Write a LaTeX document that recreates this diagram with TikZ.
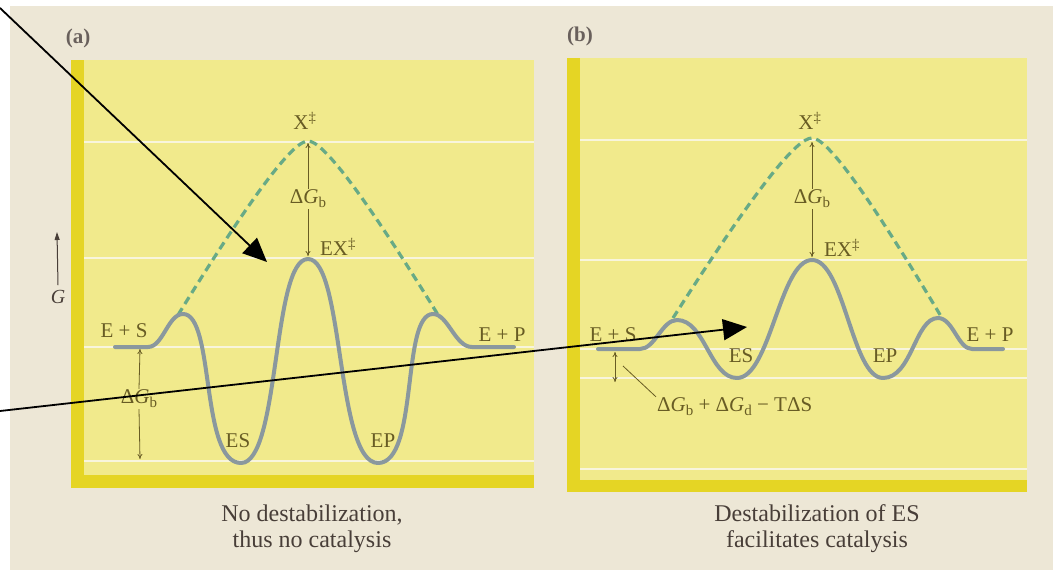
\documentclass[tikz,border=0pt]{standalone}
\usepackage{fontspec}
\setmainfont{Liberation Serif}
\usetikzlibrary{arrows.meta}
\definecolor{paper}{RGB}{237,231,214}
\definecolor{panelY}{RGB}{241,234,140}
\definecolor{barY}{RGB}{229,213,36}
\definecolor{lineW}{RGB}{248,245,220}
\definecolor{curveG}{RGB}{138,152,158}
\definecolor{dashG}{RGB}{104,170,134}
\definecolor{olive}{RGB}{104,92,36}
\definecolor{capC}{RGB}{72,62,56}
\definecolor{plabel}{RGB}{105,96,92}
\newcommand{\lowsub}[1]{\raisebox{-0.4ex}{\fontsize{15}{15}\selectfont #1}}
\newcommand{\dG}[1]{Δ\textit{G}\lowsub{#1}}
\begin{document}
\begin{tikzpicture}[x=1pt,y=-1pt,
  lbl/.style={text=olive,font=\fontsize{21}{23}\selectfont,inner sep=1pt},
  dimarrow/.style={draw=olive,line width=0.8pt,-{To[length=5pt,width=5pt]}},
  energy/.style={draw=curveG,line width=4pt,line cap=round,line join=round},
  trans/.style={draw=dashG,line width=3.2pt,dash pattern=on 8pt off 5pt},
  pointer/.style={draw=black,line width=1.8pt,-{Triangle[length=24pt,width=21pt]}},
  caption/.style={text=capC,font=\fontsize{24}{26}\selectfont,align=center},
  panellabel/.style={text=plabel,font=\bfseries\fontsize{21}{23}\selectfont},
  gridline/.style={draw=lineW,line width=2.6pt}]
\useasboundingbox (0,0) rectangle (1053,570);
\fill[white] (0,0) rectangle (1053,570);
\fill[paper] (10,6) rectangle (1053,570);

% ---------- panel (a) background ----------
\fill[panelY] (71,60) rectangle (534,488);
\foreach \yy in {142,258,347,461} \draw[gridline] (84,\yy) -- (534,\yy);
\fill[barY] (71,60) rectangle (84,488);
\fill[barY] (71,475) rectangle (534,488);

% ---------- panel (b) background ----------
\fill[panelY] (567,58) rectangle (1027,492);
\foreach \yy in {140,260,349,378,469} \draw[gridline] (580,\yy) -- (1027,\yy);
\fill[barY] (567,58) rectangle (580,492);
\fill[barY] (567,480) rectangle (1027,492);

% ---------- panel labels ----------
\node[panellabel] (pa) at (78,38) {(a)};
\node[panellabel] (pb) at (580,36) {(b)};

% ---------- G axis ----------
\node[text=capC,font=\itshape\fontsize{20}{22}\selectfont,inner sep=1pt] (gax) at (58,297) {G};
\coordinate (gtip) at (57,232);
\draw[draw=capC,line width=1pt,-{Triangle[length=8pt,width=5pt]}] (gax.north) ++(0,-4) -- (gtip);

% ---------- panel (a) curves ----------
\draw[trans] (178,315) .. controls (258.6,184.5) and (294.5,141) .. (308,141)
             .. controls (321.7,141) and (358.2,185.3) .. (440,318);
\draw[energy] (115,347) -- (148,347) .. controls (163,347) and (168,314) .. (183,314)
  .. controls (215,314) and (200,463) .. (241,463)
  .. controls (280,463) and (272,259) .. (308,259)
  .. controls (344,259) and (336,463) .. (378,463)
  .. controls (419,463) and (401,314) .. (433,314)
  .. controls (448,314) and (455,347) .. (472,347) -- (514,347);

% ---------- panel (a) labels ----------
\node[lbl] (xa) at (305,121) {X\textsuperscript{\ddag}};
\node[lbl] (exa) at (338,247) {EX\textsuperscript{\ddag}};
\node[lbl] (dgba) at (308,199) {\dG{b}};
\coordinate (xtopa) at (308,143);
\coordinate (exbota) at (308,256);
\draw[dimarrow] (dgba.north) -- (xtopa);
\draw[dimarrow] (dgba.south) -- (exbota);
\node[lbl] (esa) at (124,331) {E + S};
\node[lbl] (epa) at (502,335) {E + P};
\node[lbl] (esla) at (238,441) {ES};
\node[lbl] (epla) at (383,441) {EP};
\node[lbl] (dgbl) at (139,399) {\dG{b}};
\coordinate (lefttop) at (140,349);
\coordinate (leftbot) at (140,459);
\draw[dimarrow] (dgbl.north) -- (lefttop);
\draw[dimarrow] (dgbl.south) -- (leftbot);

% ---------- panel (b) curves ----------
\draw[trans] (673,318) .. controls (759.2,183) and (797.5,138) .. (812,138)
             .. controls (825.5,138) and (861.4,183) .. (942,318);
\draw[energy] (598,349) -- (640,349) .. controls (655,349) and (662,320) .. (677,320)
  .. controls (705,320) and (710,378) .. (737,378)
  .. controls (770,378) and (780,260) .. (812,260)
  .. controls (844,260) and (852,378) .. (883,378)
  .. controls (912,378) and (915,318) .. (938,318)
  .. controls (953,318) and (958,349) .. (972,349) -- (1003,349);

% ---------- panel (b) labels ----------
\node[lbl] (xb) at (810,121) {X\textsuperscript{\ddag}};
\node[lbl] (exb) at (842,248) {EX\textsuperscript{\ddag}};
\node[lbl] (dgbb) at (812,199) {\dG{b}};
\coordinate (xtopb) at (812,142);
\coordinate (exbotb) at (812,257);
\draw[dimarrow] (dgbb.north) -- (xtopb);
\draw[dimarrow] (dgbb.south) -- (exbotb);
\node[lbl] (esb) at (613,335) {E + S};
\node[lbl] (epb) at (990,335) {E + P};
\node[lbl] (eslb) at (741,356) {ES};
\node[lbl] (eplb) at (885,356) {EP};
\coordinate (dtop) at (615,352);
\coordinate (dbot) at (615,382);
\draw[draw=olive,line width=0.8pt,{To[length=5pt,width=5pt]}-{To[length=5pt,width=5pt]}] (dtop) -- (dbot);
\node[lbl,anchor=west] (sum) at (656,407) {\dG{b} + \dG{d} − TΔS};
\coordinate (lead) at (623,366);
\draw[draw=olive,line width=0.8pt] (sum.north west) -- (lead);

% ---------- captions ----------
\node[caption] (capa) at (312,529) {No destabilization,\\thus no catalysis};
\node[caption] (capb) at (817,529) {Destabilization of ES\\facilitates catalysis};

% ---------- black pointer arrows ----------
\coordinate (p1s) at (0,8);
\coordinate (p1e) at (267,262);
\coordinate (p2s) at (0,411);
\coordinate (p2e) at (747,327);
\draw[pointer] (p1s) -- (p1e);
\draw[pointer] (p2s) -- (p2e);
\end{tikzpicture}
\end{document}
